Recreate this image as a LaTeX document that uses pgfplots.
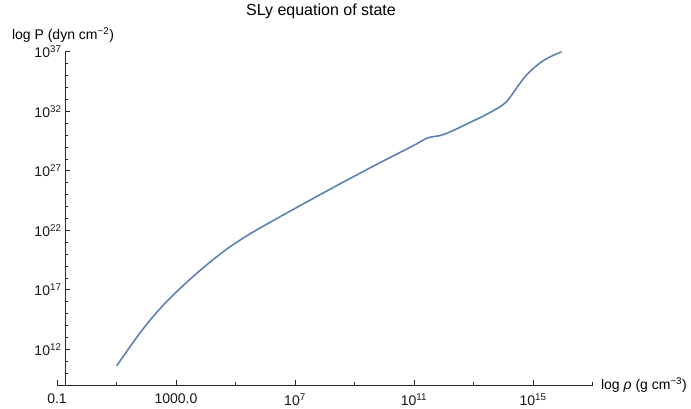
\documentclass[border=0pt]{standalone}
\usepackage{fontspec}
\setmainfont{Liberation Sans}
\usepackage{pgfplots}
\pgfplotsset{compat=1.18}
\usepackage{pgfplotstable}

\definecolor{mmablue}{rgb}{0.368417,0.506779,0.709798}

% log10(rho) [g cm^-3]   log10(P) [dyn cm^-2]
\pgfplotstableread{
lrho    lp
1.007   10.613
1.286   11.613
1.565   12.605
1.847   13.563
2.126   14.445
2.405   15.252
2.687   16.017
2.966   16.706
3.245   17.370
3.528   18.008
3.807   18.622
4.059   19.151
4.311   19.664
4.563   20.151
4.815   20.613
5.067   21.034
5.319   21.445
5.571   21.824
5.824   22.193
6.160   22.664
6.496   23.134
7.168   24.068
7.729   24.839
8.287   25.598
8.849   26.354
9.632   27.388
10.193  28.112
10.755  28.826
11.091  29.270
11.303  29.570
11.471  29.773
11.639  29.866
11.874  29.958
12.099  30.143
12.311  30.378
12.546  30.655
12.771  30.924
12.993  31.202
13.218  31.454
13.555  31.899
13.891  32.378
14.116  32.824
14.227  33.176
14.338  33.555
14.452  33.975
14.563  34.353
14.674  34.731
14.788  35.067
14.956  35.487
15.124  35.840
15.292  36.160
15.461  36.429
15.629  36.639
15.797  36.832
15.965  37.000
}\slytable

\begin{document}
\begin{tikzpicture}
  \useasboundingbox (-57pt,-24pt) rectangle (634pt,385pt);
  \begin{axis}[
    scale only axis,
    width=535.5pt, height=333.2pt,
    xmin=-1, xmax=17,
    ymin=9, ymax=37,
    axis x line*=bottom,
    axis y line*=left,
    axis y line shift=-8pt,
    axis line style={black!85, line width=0.7pt},
    tick style={black!85, line width=0.6pt},
    tick align=inside,
    major tick length=5pt,
    minor tick length=3pt,
    xtick={-1,3,7,11,15},
    xticklabels={0.1,1000.0,10\textsuperscript{7},10\textsuperscript{11},10\textsuperscript{15}},
    minor xtick={1,5,9,13,17},
    ytick={12,17,22,27,32,37},
    yticklabels={10\textsuperscript{12},10\textsuperscript{17},10\textsuperscript{22},10\textsuperscript{27},10\textsuperscript{32},10\textsuperscript{37}},
    minor ytick={10,11,13,14,15,16,18,19,20,21,23,24,25,26,28,29,30,31,33,34,35,36},
    ticklabel style={font=\fontsize{14}{16}\selectfont, text=black!90},
    xticklabel style={yshift=-5pt},
    title={SLy equation of state},
    title style={at={(rel axis cs:0.493,1)}, anchor=center, yshift=34pt,
      font=\fontsize{16}{19}\selectfont},
    xlabel={log \textit{ρ} (g cm\textsuperscript{−3})},
    ylabel={log P (dyn cm\textsuperscript{−2})},
    every axis x label/.style={at={(rel axis cs:1,0)}, anchor=west, xshift=5pt,
      font=\fontsize{14}{16}\selectfont},
    every axis y label/.style={at={(rel axis cs:0,1)}, anchor=center,
      xshift=6pt, yshift=17pt, font=\fontsize{14}{16}\selectfont},
    clip=false,
  ]
    \addplot[mmablue, line width=1.6pt, line join=round, smooth, tension=0.4]
      table[x=lrho, y=lp] {\slytable};
  \end{axis}
\end{tikzpicture}
\end{document}
